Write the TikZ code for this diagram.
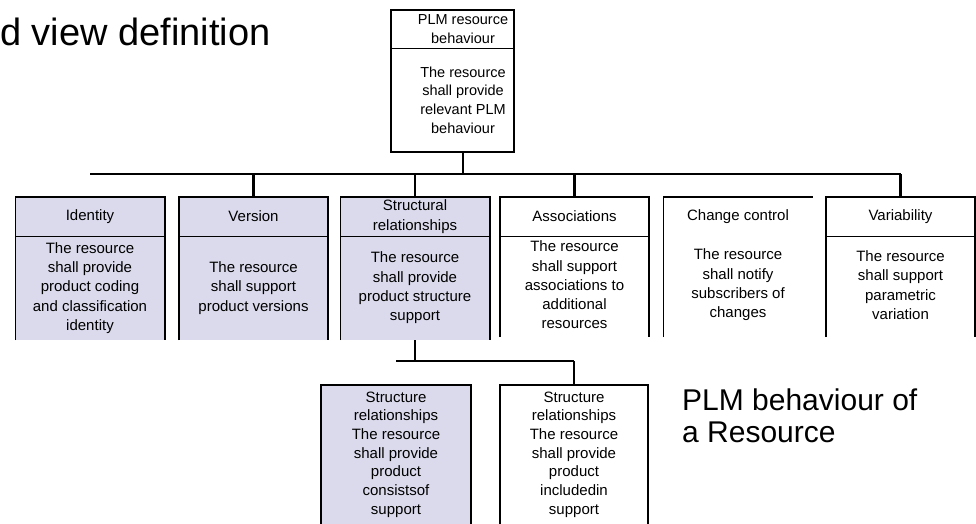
\documentclass[tikz,border=0pt]{standalone}
\usepackage{fontspec}
\setmainfont{Liberation Sans}
\definecolor{boxlav}{RGB}{218,218,236}
\tikzset{
  hdr/.style={minimum width=149pt, minimum height=39pt, inner sep=0pt, align=center,
    font=\fontsize{15}{19.5}\selectfont},
  bdy/.style={minimum width=149pt, minimum height=104pt, inner sep=0pt, align=center,
    font=\fontsize{15}{19.3}\selectfont},
  frame/.style={line width=1.6pt},
  divider/.style={line width=1pt},
  wire/.style={line width=2.4pt},
}
\begin{document}
\begin{tikzpicture}[x=1pt,y=-1pt]
  \useasboundingbox (0,0) rectangle (976,524);

  \node[anchor=base west, inner sep=0pt, font=\fontsize{38}{44}\selectfont] (title) at (0,46) {d view definition};
  \node[anchor=north west, inner sep=0pt, align=left, font=\fontsize{30}{32}\selectfont] (caption) at (682,389) {PLM behaviour of\\a Resource};

  \coordinate (top-nw) at (391,10);
  \coordinate (top-se) at (514,152);
  \node[hdr, minimum width=110pt, minimum height=38pt, font=\fontsize{14.5}{19}\selectfont] (top-h) at (463,29) {PLM resource\\behaviour};
  \node[bdy, minimum width=110pt, font=\fontsize{14.5}{18.7}\selectfont] (top-b) at (463,100) {The resource\\shall provide\\relevant PLM\\behaviour};

  \begin{scope}[every node/.append style={fill=boxlav}]
    \node[hdr] (id-h) at (90,216.5)  {Identity};
    \node[bdy] (id-b) at (90,288)    {The resource\\shall provide\\product coding\\and classification\\identity};
    \node[hdr] (ve-h) at (253.5,216.5) {Version};
    \node[bdy] (ve-b) at (253.5,288)   {The resource\\shall support\\product versions};
    \node[hdr] (st-h) at (415,216.5) {Structural\\relationships};
    \node[bdy] (st-b) at (415,288)   {The resource\\shall provide\\product structure\\support};
    \node[bdy, minimum width=150pt, minimum height=139pt, font=\fontsize{15}{18.7}\selectfont] (sc-b) at (396,454.5)
      {Structure\\relationships\\The resource\\shall provide\\product\\consistsof\\support};
  \end{scope}

  \node[hdr] (as-h) at (574.5,216.5) {Associations};
  \node[bdy] (as-b) at (574.5,285)   {The resource\\shall support\\associations to\\additional\\resources};
  \node[hdr] (ch-h) at (738,216.5)   {Change control};
  \node[bdy] (ch-b) at (738,285)     {The resource\\shall notify\\subscribers of\\changes};
  \node[hdr] (va-h) at (900.5,216.5) {Variability};
  \node[bdy] (va-b) at (900.5,285)   {The resource\\shall support\\parametric\\variation};
  \node[bdy, minimum width=148pt, minimum height=139pt, font=\fontsize{15}{18.7}\selectfont] (si-b) at (574,454.5)
    {Structure\\relationships\\The resource\\shall provide\\product\\includedin\\support};

  \draw[frame] (top-nw) rectangle (top-se);
  \draw[divider] (top-nw |- top-h.south) -- (top-se |- top-h.south);
  \foreach \n in {id,ve,st,as,va} {
    \draw[frame] (\n-b.south west) |- (\n-h.north east) -- (\n-b.south east);
    \draw[divider] (\n-h.south west) -- (\n-h.south east);
  }
  \draw[frame] (ch-b.south west) |- (ch-h.north east);
  \foreach \n in {sc,si}
    \draw[frame] (\n-b.south west) |- (\n-b.north east) -- (\n-b.south east);

  \coordinate (bus-l) at (90,174);
  \coordinate (bus-r) at (900.5,174);
  \coordinate (sub-l) at (396,361);
  \coordinate (sub-r) at (574,361);

  \begin{scope}[every path/.style={wire}]
    \draw (bus-l) -- (bus-r);
    \draw (top-b.south) -- (top-b.south |- bus-l);
    \draw (ve-h.north |- bus-l) -- (ve-h.north);
    \draw (st-h.north |- bus-l) -- (st-h.north);
    \draw (as-h.north |- bus-l) -- (as-h.north);
    \draw (bus-r) -- (va-h.north);
    \draw (st-b.south) -- (st-b.south |- sub-l);
    \draw (sub-l) -- (sub-r);
    \draw (sub-r) -- (si-b.north);
  \end{scope}
\end{tikzpicture}
\end{document}
